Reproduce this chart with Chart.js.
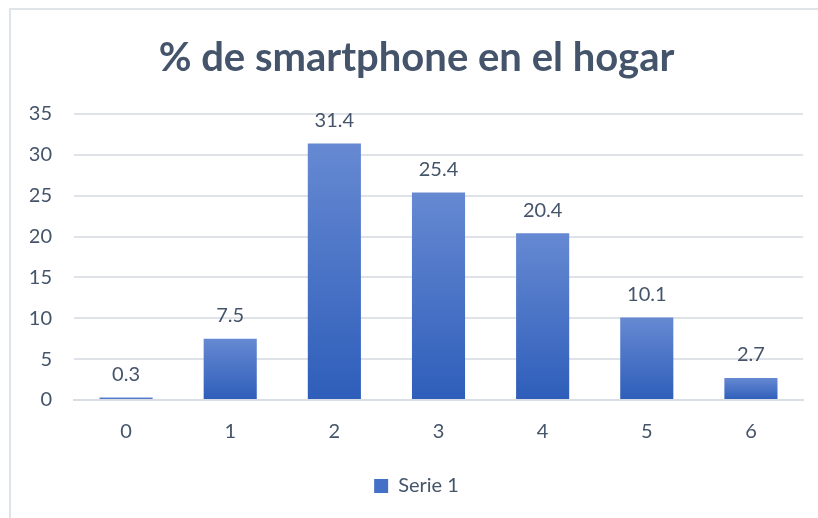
<!DOCTYPE html>
<html>
<head>
<meta charset="utf-8">
<script src="https://cdn.jsdelivr.net/npm/chart.js@4"></script>
<style>
    body { margin: 0; background: #fff; overflow: hidden; }
    #frame { position: absolute; left: 9px; top: 8px; width: 900px; height: 600px;
             border-top: 2px solid #dfe3ea; border-left: 2px solid #dfe3ea; }
    #myChart { position: absolute; left: 0; top: 0; }
</style>
</head>
<body>
<div id="frame"></div>
<canvas id="myChart" width="818" height="518"></canvas>
<script>
// data
var categories = ['0', '1', '2', '3', '4', '5', '6'];
var serie1 = [0.3, 7.5, 31.4, 25.4, 20.4, 10.1, 2.7];
var titleText = '% de smartphone en el hogar';
var seriesName = 'Serie 1';

var textColor = '#44546a';
var fontName = 'Lato, "Open Sans", sans-serif';

// gradient for each bar, light at top, dark at bottom
function barGradient(context) {
    var chart = context.chart;
    if (!chart.chartArea || context.dataIndex === undefined) return '#4472c4';
    var y = chart.scales.y;
    var top = y.getPixelForValue(context.raw);
    var bottom = y.getPixelForValue(0);
    if (bottom - top < 1) top = bottom - 1;
    var g = chart.ctx.createLinearGradient(0, top, 0, bottom);
    g.addColorStop(0, '#6689d2');
    g.addColorStop(1, '#2e5eba');
    return g;
}

// value labels above bars
var valueLabels = {
    id: 'valueLabels',
    afterDatasetsDraw: function (chart) {
        var ctx = chart.ctx;
        var meta = chart.getDatasetMeta(0);
        ctx.save();
        ctx.font = '20px ' + fontName;
        ctx.fillStyle = textColor;
        ctx.textAlign = 'center';
        ctx.textBaseline = 'bottom';
        meta.data.forEach(function (bar, i) {
            ctx.fillText(serie1[i].toFixed(1), bar.x, bar.y - 13);
        });
        ctx.restore();
    }
};

var ctx = document.getElementById('myChart').getContext('2d');
var myChart = new Chart(ctx, {
    type: 'bar',
    data: {
        labels: categories,
        datasets: [{
            label: seriesName,
            data: serie1,
            backgroundColor: barGradient,
            categoryPercentage: 0.51,
            barPercentage: 1
        }]
    },
    options: {
        responsive: false,
        animation: false,
        layout: { padding: { left: 30, right: 15, top: 34, bottom: 12 } },
        plugins: {
            title: {
                display: true,
                text: titleText,
                color: textColor,
                font: { family: fontName, size: 40, weight: 'bold' },
                padding: { top: 0, bottom: 32 }
            },
            legend: {
                position: 'bottom',
                labels: {
                    color: textColor,
                    font: { family: fontName, size: 20 },
                    boxWidth: 14,
                    boxHeight: 14,
                    padding: 12,
                    generateLabels: function (chart) {
                        return [{
                            text: seriesName,
                            fillStyle: '#4470c8',
                            strokeStyle: '#4470c8',
                            lineWidth: 0,
                            fontColor: textColor,
                            datasetIndex: 0
                        }];
                    }
                }
            },
            tooltip: { enabled: false }
        },
        scales: {
            x: {
                grid: { display: false, drawTicks: false },
                border: { display: true, color: '#d9dde4', width: 2 },
                ticks: { color: textColor, font: { family: fontName, size: 20 }, padding: 20 }
            },
            y: {
                min: 0,
                max: 35,
                ticks: { stepSize: 5, color: textColor, font: { family: fontName, size: 20 }, padding: 22 },
                grid: { color: '#dfe2e8', lineWidth: 2, drawTicks: false },
                border: { display: false },
                afterFit: function (scale) { scale.width = 44; }
            }
        }
    },
    plugins: [valueLabels]
});
</script>
</body>
</html>
